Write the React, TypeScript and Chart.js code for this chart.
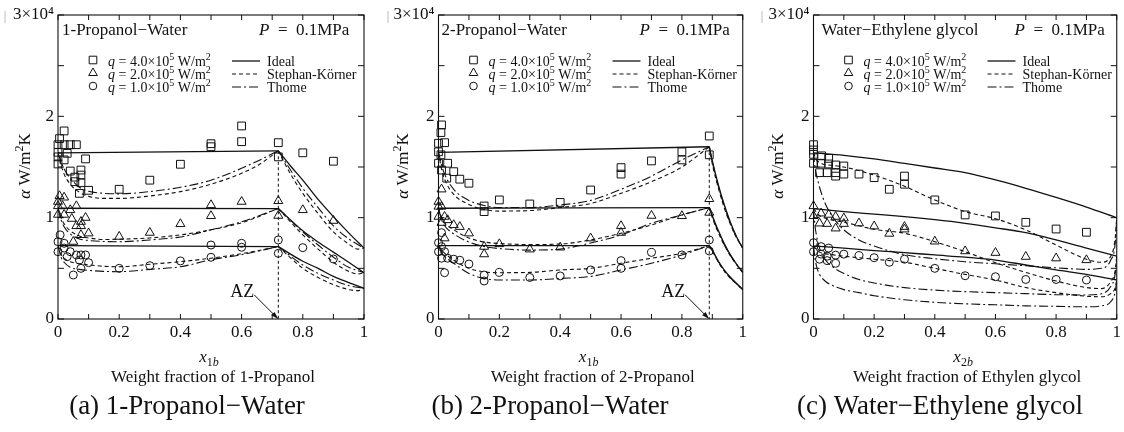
import React, { useEffect, useRef } from 'react';
import { Chart, registerables } from 'chart.js';

Chart.register(...registerables);

type Pt = [number, number];

// ---------- Tick labels ----------
const xTickLabels = ['0', '0.2', '0.4', '0.6', '0.8', '1'];
const yTickLabels = ['0', '1', '2', '3×10⁴'];

// ---------- Panel (a) 1-Propanol–Water ----------
const aSquares: Pt[] = [
  [0.02, 1.856], [0.005, 1.78], [0, 1.72], [0.02, 1.72], [0.04, 1.72], [0.06, 1.72], [0, 1.645], [0, 1.6],
  [0.03, 1.635], [0.02, 1.57], [0, 1.53], [0.09, 1.58], [0.04, 1.46], [0.075, 1.47], [0.075, 1.42],
  [0.055, 1.4], [0.055, 1.355], [0.075, 1.345], [0.1, 1.27], [0.07, 1.24], [0.2, 1.28], [0.3, 1.37],
  [0.4, 1.527], [0.5, 1.73], [0.5, 1.7], [0.6, 1.905], [0.6, 1.75], [0.72, 1.74], [0.72, 1.6], [0.8, 1.64],
  [0.9, 1.557],
];
const aTriangles: Pt[] = [
  [0.005, 1.214], [0.02, 1.2], [0, 1.158], [0, 1.115], [0.015, 1.115], [0.04, 1.076], [0.06, 1.115],
  [0.02, 1.03], [0, 1.03], [0.045, 0.99], [0.09, 1.0], [0.075, 0.96], [0.075, 0.918], [0.06, 0.918],
  [0.1, 0.846], [0.075, 0.83], [0.05, 0.763], [0.2, 0.813], [0.3, 0.852], [0.4, 0.938], [0.5, 1.125],
  [0.5, 1.017], [0.6, 1.158], [0.72, 1.165], [0.72, 1.02], [0.8, 1.076], [0.9, 0.97],
];
const aCircles: Pt[] = [
  [0.007, 0.83], [0, 0.763], [0, 0.664], [0.02, 0.747], [0.04, 0.664], [0.02, 0.7], [0.03, 0.615],
  [0.06, 0.632], [0.075, 0.632], [0.09, 0.632], [0.07, 0.582], [0.1, 0.556], [0.075, 0.5], [0.05, 0.434],
  [0.2, 0.5], [0.3, 0.526], [0.4, 0.573], [0.5, 0.73], [0.5, 0.609], [0.6, 0.747], [0.6, 0.708],
  [0.72, 0.78], [0.72, 0.648], [0.8, 0.704], [0.9, 0.592],
];
const aIdeal4L: Pt[] = [[0, 1.64], [0.72, 1.66]];
const aIdeal4R: Pt[] = [[0.72, 1.66], [0.76, 1.51], [0.8, 1.37], [0.85, 1.18], [0.9, 1.01], [0.95, 0.85], [1, 0.7]];
const aIdeal2L: Pt[] = [[0, 1.093], [0.72, 1.09]];
const aIdeal2R: Pt[] = [[0.72, 1.09], [0.8, 0.87], [0.85, 0.76], [0.9, 0.66], [0.95, 0.56], [1, 0.457]];
const aIdeal1L: Pt[] = [[0, 0.724], [0.72, 0.714]];
const aIdeal1R: Pt[] = [[0.72, 0.714], [0.8, 0.57], [0.85, 0.5], [0.9, 0.42], [0.95, 0.36], [1, 0.303]];
const aSK4L: Pt[] = [[0, 1.64], [0.01, 1.52], [0.02, 1.43], [0.04, 1.33], [0.07, 1.25], [0.1, 1.21], [0.15, 1.19], [0.2, 1.19], [0.3, 1.214], [0.4, 1.257], [0.5, 1.33], [0.6, 1.438], [0.66, 1.53], [0.72, 1.66]];
const aSK4R: Pt[] = [[0.72, 1.66], [0.76, 1.43], [0.8, 1.24], [0.85, 1.04], [0.9, 0.86], [0.95, 0.74], [0.98, 0.69], [1, 0.7]];
const aTh4L: Pt[] = [[0, 1.64], [0.01, 1.55], [0.02, 1.48], [0.04, 1.39], [0.07, 1.3], [0.1, 1.26], [0.15, 1.24], [0.2, 1.235], [0.3, 1.257], [0.4, 1.3], [0.5, 1.37], [0.6, 1.487], [0.66, 1.57], [0.72, 1.66]];
const aTh4R: Pt[] = [[0.72, 1.66], [0.76, 1.47], [0.8, 1.29], [0.85, 1.1], [0.9, 0.92], [0.95, 0.79], [1, 0.7]];
const aSK2L: Pt[] = [[0, 1.093], [0.01, 1.0], [0.02, 0.94], [0.04, 0.87], [0.07, 0.82], [0.1, 0.8], [0.15, 0.785], [0.2, 0.787], [0.3, 0.8], [0.4, 0.83], [0.5, 0.88], [0.6, 0.95], [0.72, 1.09]];
const aSK2R: Pt[] = [[0.72, 1.09], [0.8, 0.83], [0.85, 0.69], [0.9, 0.56], [0.95, 0.47], [0.98, 0.445], [1, 0.457]];
const aTh2L: Pt[] = [[0, 1.093], [0.01, 0.98], [0.02, 0.91], [0.04, 0.84], [0.07, 0.79], [0.1, 0.775], [0.15, 0.765], [0.2, 0.763], [0.3, 0.78], [0.4, 0.81], [0.5, 0.88], [0.6, 0.96], [0.72, 1.09]];
const aTh2R: Pt[] = [[0.72, 1.09], [0.8, 0.86], [0.85, 0.73], [0.9, 0.61], [0.95, 0.51], [1, 0.457]];
const aSK1L: Pt[] = [[0, 0.724], [0.01, 0.64], [0.02, 0.6], [0.04, 0.565], [0.07, 0.545], [0.1, 0.535], [0.15, 0.52], [0.2, 0.516], [0.3, 0.54], [0.4, 0.566], [0.5, 0.6], [0.6, 0.645], [0.72, 0.714]];
const aSK1R: Pt[] = [[0.72, 0.714], [0.8, 0.5], [0.85, 0.41], [0.9, 0.34], [0.95, 0.29], [0.98, 0.28], [1, 0.303]];
const aTh1L: Pt[] = [[0, 0.724], [0.01, 0.61], [0.02, 0.56], [0.04, 0.51], [0.07, 0.49], [0.1, 0.48], [0.15, 0.47], [0.2, 0.467], [0.3, 0.49], [0.4, 0.516], [0.5, 0.585], [0.6, 0.635], [0.72, 0.714]];
const aTh1R: Pt[] = [[0.72, 0.714], [0.8, 0.533], [0.85, 0.45], [0.9, 0.385], [0.95, 0.33], [1, 0.303]];
const aAzeotrope: Pt = [0.72, 1.66];

// ---------- Panel (b) 2-Propanol–Water ----------
const bSquares: Pt[] = [
  [0.01, 1.915], [0.008, 1.84], [0, 1.734], [0.02, 1.74], [0, 1.65], [0.008, 1.62], [0, 1.537], [0.03, 1.537],
  [0.01, 1.47], [0.027, 1.39], [0.05, 1.454], [0.07, 1.38], [0.1, 1.34], [0.15, 1.115], [0.15, 1.06],
  [0.2, 1.175], [0.3, 1.135], [0.4, 1.15], [0.5, 1.273], [0.6, 1.494], [0.6, 1.43], [0.7, 1.56], [0.8, 1.65],
  [0.8, 1.57], [0.89, 1.806], [0.89, 1.62],
];
const bTriangles: Pt[] = [
  [0.01, 1.28], [0, 1.158], [0.01, 1.11], [0, 1.11], [0, 1.01], [0.02, 1.01], [0.03, 0.977], [0.01, 0.95],
  [0.05, 0.928], [0.07, 0.91], [0.1, 0.846], [0.02, 0.797], [0.15, 0.714], [0.15, 0.64], [0.2, 0.74],
  [0.3, 0.688], [0.4, 0.707], [0.5, 0.797], [0.6, 0.918], [0.6, 0.852], [0.7, 1.02], [0.8, 1.017],
  [0.89, 1.185], [0.89, 1.05],
];
const bCircles: Pt[] = [
  [0.01, 0.852], [0, 0.753], [0.01, 0.714], [0, 0.664], [0.02, 0.664], [0.01, 0.6], [0.03, 0.6], [0.05, 0.59],
  [0.07, 0.58], [0.1, 0.543], [0.02, 0.457], [0.15, 0.434], [0.15, 0.375], [0.2, 0.46], [0.3, 0.41],
  [0.4, 0.425], [0.5, 0.484], [0.6, 0.576], [0.6, 0.5], [0.7, 0.657], [0.8, 0.632], [0.89, 0.78], [0.89, 0.671],
];
const bIdeal4L: Pt[] = [[0, 1.645], [0.89, 1.7]];
const bIdeal4R: Pt[] = [[0.89, 1.7], [0.9, 1.56], [0.92, 1.32], [0.94, 1.12], [0.96, 0.95], [0.98, 0.81], [1, 0.7]];
const bIdeal2L: Pt[] = [[0, 1.093], [0.89, 1.1]];
const bIdeal2R: Pt[] = [[0.89, 1.1], [0.9, 1.02], [0.92, 0.87], [0.94, 0.74], [0.96, 0.63], [0.98, 0.54], [1, 0.46]];
const bIdeal1L: Pt[] = [[0, 0.724], [0.89, 0.724]];
const bIdeal1R: Pt[] = [[0.89, 0.724], [0.9, 0.68], [0.92, 0.57], [0.94, 0.48], [0.96, 0.41], [0.98, 0.35], [1, 0.29]];
const bSK4L: Pt[] = [[0, 1.645], [0.01, 1.48], [0.02, 1.38], [0.05, 1.23], [0.1, 1.13], [0.15, 1.08], [0.2, 1.065], [0.3, 1.07], [0.4, 1.1], [0.5, 1.14], [0.6, 1.24], [0.7, 1.355], [0.8, 1.5], [0.89, 1.7]];
const bSK4R: Pt[] = [[0.89, 1.7], [0.9, 1.53], [0.92, 1.29], [0.94, 1.09], [0.96, 0.93], [0.98, 0.8], [1, 0.7]];
const bTh4L: Pt[] = [[0, 1.645], [0.01, 1.52], [0.02, 1.43], [0.05, 1.28], [0.1, 1.17], [0.15, 1.12], [0.2, 1.1], [0.3, 1.1], [0.4, 1.125], [0.5, 1.17], [0.6, 1.28], [0.7, 1.41], [0.8, 1.57], [0.89, 1.7]];
const bTh4R: Pt[] = [[0.89, 1.7], [0.9, 1.55], [0.92, 1.31], [0.94, 1.11], [0.96, 0.94], [0.98, 0.805], [1, 0.7]];
const bSK2L: Pt[] = [[0, 1.093], [0.01, 1.0], [0.02, 0.95], [0.05, 0.88], [0.1, 0.8], [0.15, 0.76], [0.2, 0.745], [0.3, 0.735], [0.4, 0.74], [0.5, 0.78], [0.6, 0.846], [0.7, 0.928], [0.8, 1.027], [0.89, 1.1]];
const bSK2R: Pt[] = [[0.89, 1.1], [0.9, 1.0], [0.92, 0.85], [0.94, 0.725], [0.96, 0.62], [0.98, 0.535], [1, 0.46]];
const bTh2L: Pt[] = [[0, 1.093], [0.01, 0.98], [0.02, 0.92], [0.05, 0.84], [0.1, 0.76], [0.15, 0.715], [0.2, 0.695], [0.3, 0.68], [0.4, 0.69], [0.5, 0.75], [0.6, 0.83], [0.7, 0.945], [0.8, 1.027], [0.89, 1.1]];
const bTh2R: Pt[] = [[0.89, 1.1], [0.9, 1.01], [0.92, 0.86], [0.94, 0.73], [0.96, 0.625], [0.98, 0.54], [1, 0.46]];
const bSK1L: Pt[] = [[0, 0.724], [0.01, 0.68], [0.02, 0.65], [0.05, 0.58], [0.1, 0.5], [0.15, 0.465], [0.2, 0.457], [0.3, 0.46], [0.4, 0.484], [0.5, 0.5], [0.6, 0.55], [0.7, 0.6], [0.8, 0.648], [0.89, 0.724]];
const bSK1R: Pt[] = [[0.89, 0.724], [0.9, 0.67], [0.92, 0.56], [0.94, 0.47], [0.96, 0.4], [0.98, 0.345], [1, 0.29]];
const bTh1L: Pt[] = [[0, 0.724], [0.01, 0.66], [0.02, 0.62], [0.05, 0.55], [0.1, 0.45], [0.15, 0.4], [0.2, 0.385], [0.3, 0.385], [0.4, 0.4], [0.5, 0.42], [0.6, 0.484], [0.7, 0.55], [0.8, 0.632], [0.89, 0.724]];
const bTh1R: Pt[] = [[0.89, 0.724], [0.9, 0.675], [0.92, 0.565], [0.94, 0.475], [0.96, 0.405], [0.98, 0.345], [1, 0.29]];
const bAzeotrope: Pt = [0.89, 1.7];

// ---------- Panel (c) Water–Ethylene glycol ----------
const cSquares: Pt[] = [
  [0, 1.72], [0, 1.668], [0, 1.625], [0, 1.537], [0.027, 1.61], [0.05, 1.585], [0.05, 1.53], [0.025, 1.537],
  [0.073, 1.52], [0.1, 1.51], [0.02, 1.444], [0.045, 1.444], [0.073, 1.444], [0.073, 1.41], [0.1, 1.43],
  [0.15, 1.43], [0.2, 1.395], [0.25, 1.28], [0.3, 1.41], [0.3, 1.33], [0.4, 1.175], [0.5, 1.027],
  [0.6, 1.017], [0.7, 0.954], [0.8, 0.888], [0.9, 0.856],
];
const cTriangles: Pt[] = [
  [0, 1.115], [0, 1.017], [0.025, 1.043], [0.05, 1.03], [0.073, 1.01], [0.1, 0.994], [0.02, 0.944],
  [0.045, 0.94], [0.073, 0.895], [0.1, 0.94], [0.15, 0.945], [0.2, 0.915], [0.25, 0.843], [0.3, 0.91],
  [0.3, 0.885], [0.4, 0.766], [0.5, 0.67], [0.6, 0.654], [0.7, 0.615], [0.8, 0.6], [0.9, 0.582],
];
const cCircles: Pt[] = [
  [0, 0.753], [0, 0.664], [0.025, 0.714], [0.05, 0.7], [0.025, 0.64], [0.045, 0.62], [0.073, 0.63],
  [0.02, 0.59], [0.045, 0.576], [0.073, 0.55], [0.1, 0.64], [0.15, 0.625], [0.2, 0.605], [0.25, 0.56],
  [0.3, 0.59], [0.4, 0.5], [0.5, 0.427], [0.6, 0.417], [0.7, 0.39], [0.8, 0.39], [0.9, 0.385],
];
const cIdeal4: Pt[] = [[0, 1.64], [0.1, 1.615], [0.2, 1.58], [0.3, 1.535], [0.4, 1.49], [0.5, 1.444], [0.6, 1.372], [0.7, 1.29], [0.8, 1.2], [0.9, 1.105], [1, 1.0]];
const cIdeal2: Pt[] = [[0, 1.09], [0.1, 1.06], [0.2, 1.035], [0.3, 1.01], [0.4, 0.98], [0.5, 0.944], [0.6, 0.9], [0.7, 0.852], [0.8, 0.78], [0.9, 0.7], [1, 0.62]];
const cIdeal1: Pt[] = [[0, 0.72], [0.1, 0.7], [0.2, 0.675], [0.3, 0.655], [0.4, 0.632], [0.5, 0.61], [0.6, 0.582], [0.7, 0.533], [0.8, 0.484], [0.9, 0.44], [1, 0.385]];
const cSK4: Pt[] = [[0, 1.64], [0.01, 1.57], [0.03, 1.53], [0.05, 1.52], [0.1, 1.5], [0.2, 1.42], [0.3, 1.31], [0.4, 1.175], [0.5, 1.06], [0.6, 0.99], [0.7, 0.88], [0.8, 0.73], [0.9, 0.59], [0.95, 0.56], [0.98, 0.62], [0.995, 0.8], [1, 1.0]];
const cSK2: Pt[] = [[0, 1.09], [0.02, 1.02], [0.05, 0.985], [0.1, 0.955], [0.15, 0.92], [0.2, 0.885], [0.3, 0.846], [0.4, 0.763], [0.5, 0.664], [0.6, 0.555], [0.7, 0.46], [0.8, 0.375], [0.9, 0.31], [0.95, 0.3], [0.98, 0.37], [0.995, 0.48], [1, 0.62]];
const cSK1: Pt[] = [[0, 0.72], [0.02, 0.66], [0.05, 0.64], [0.1, 0.62], [0.2, 0.59], [0.3, 0.56], [0.4, 0.5], [0.5, 0.44], [0.6, 0.385], [0.7, 0.31], [0.8, 0.26], [0.9, 0.225], [0.95, 0.22], [0.98, 0.25], [0.995, 0.31], [1, 0.385]];
const cTh4: Pt[] = [[0, 1.64], [0.005, 1.5], [0.01, 1.42], [0.02, 1.3], [0.04, 1.13], [0.07, 0.98], [0.1, 0.88], [0.15, 0.78], [0.2, 0.72], [0.3, 0.635], [0.4, 0.595], [0.5, 0.565], [0.6, 0.545], [0.7, 0.525], [0.8, 0.505], [0.9, 0.49], [0.95, 0.5], [0.98, 0.58], [0.995, 0.75], [1, 1.0]];
const cTh2: Pt[] = [[0, 1.09], [0.005, 0.92], [0.01, 0.82], [0.02, 0.7], [0.04, 0.58], [0.07, 0.5], [0.1, 0.45], [0.15, 0.39], [0.2, 0.355], [0.3, 0.31], [0.4, 0.285], [0.5, 0.27], [0.6, 0.26], [0.7, 0.25], [0.8, 0.24], [0.9, 0.237], [0.95, 0.25], [0.98, 0.32], [0.995, 0.45], [1, 0.62]];
const cTh1: Pt[] = [[0, 0.72], [0.005, 0.6], [0.01, 0.52], [0.02, 0.44], [0.04, 0.37], [0.07, 0.32], [0.1, 0.29], [0.15, 0.26], [0.2, 0.23], [0.3, 0.19], [0.4, 0.165], [0.5, 0.15], [0.6, 0.14], [0.7, 0.13], [0.8, 0.125], [0.9, 0.12], [0.95, 0.13], [0.98, 0.17], [0.995, 0.27], [1, 0.385]];

// ---------- legend texts ----------
const heatFluxValues = ['4.0', '2.0', '1.0'];
const modelNames = ['Ideal', 'Stephan-Körner', 'Thome'];

// ---------- styling / layout ----------
const H = 432;
const FONT = '"Liberation Serif", "Times New Roman", "DejaVu Serif", serif';
const INK = '#111';

type Kind = 'ideal' | 'sk' | 'th';
interface PanelSpec {
  left: number; width: number; plotLeft: number; plotRight: number;
  title: string; titleDx: number; xSub: string; xName: string; caption: string; captionX: number;
  yTitleX: number; artifactX: number;
  squares: Pt[]; triangles: Pt[]; circles: Pt[];
  lines: { pts: Pt[]; kind: Kind }[];
  az?: Pt;
}

const panels: PanelSpec[] = [
  {
    left: 0, width: 375, plotLeft: 58, plotRight: 364, title: '1-Propanol−Water', titleDx: 4,
    xSub: '1b', xName: 'Weight fraction of 1-Propanol', caption: '(a) 1-Propanol−Water', captionX: 187,
    yTitleX: 30, artifactX: 5, squares: aSquares, triangles: aTriangles, circles: aCircles,
    lines: [
      { pts: aIdeal4L, kind: 'ideal' }, { pts: aIdeal4R, kind: 'ideal' }, { pts: aIdeal2L, kind: 'ideal' }, { pts: aIdeal2R, kind: 'ideal' },
      { pts: aIdeal1L, kind: 'ideal' }, { pts: aIdeal1R, kind: 'ideal' },
      { pts: aSK4L, kind: 'sk' }, { pts: aSK4R, kind: 'sk' }, { pts: aSK2L, kind: 'sk' }, { pts: aSK2R, kind: 'sk' }, { pts: aSK1L, kind: 'sk' }, { pts: aSK1R, kind: 'sk' },
      { pts: aTh4L, kind: 'th' }, { pts: aTh4R, kind: 'th' }, { pts: aTh2L, kind: 'th' }, { pts: aTh2R, kind: 'th' }, { pts: aTh1L, kind: 'th' }, { pts: aTh1R, kind: 'th' },
    ],
    az: aAzeotrope,
  },
  {
    left: 375, width: 375, plotLeft: 63.5, plotRight: 368, title: '2-Propanol−Water', titleDx: 3,
    xSub: '1b', xName: 'Weight fraction of 2-Propanol', caption: '(b) 2-Propanol−Water', captionX: 175,
    yTitleX: 33, artifactX: 13, squares: bSquares, triangles: bTriangles, circles: bCircles,
    lines: [
      { pts: bIdeal4L, kind: 'ideal' }, { pts: bIdeal4R, kind: 'ideal' }, { pts: bIdeal2L, kind: 'ideal' }, { pts: bIdeal2R, kind: 'ideal' },
      { pts: bIdeal1L, kind: 'ideal' }, { pts: bIdeal1R, kind: 'ideal' },
      { pts: bSK4L, kind: 'sk' }, { pts: bSK4R, kind: 'sk' }, { pts: bSK2L, kind: 'sk' }, { pts: bSK2R, kind: 'sk' }, { pts: bSK1L, kind: 'sk' }, { pts: bSK1R, kind: 'sk' },
      { pts: bTh4L, kind: 'th' }, { pts: bTh4R, kind: 'th' }, { pts: bTh2L, kind: 'th' }, { pts: bTh2R, kind: 'th' }, { pts: bTh1L, kind: 'th' }, { pts: bTh1R, kind: 'th' },
    ],
    az: bAzeotrope,
  },
  {
    left: 750, width: 374, plotLeft: 63.5, plotRight: 368, title: 'Water−Ethylene glycol', titleDx: 8,
    xSub: '2b', xName: 'Weight fraction of Ethylen glycol', caption: '(c) Water−Ethylene glycol', captionX: 190,
    yTitleX: 33, artifactX: 12, squares: cSquares, triangles: cTriangles, circles: cCircles,
    lines: [
      { pts: cIdeal4, kind: 'ideal' }, { pts: cIdeal2, kind: 'ideal' }, { pts: cIdeal1, kind: 'ideal' },
      { pts: cSK4, kind: 'sk' }, { pts: cSK2, kind: 'sk' }, { pts: cSK1, kind: 'sk' },
      { pts: cTh4, kind: 'th' }, { pts: cTh2, kind: 'th' }, { pts: cTh1, kind: 'th' },
    ],
  },
];

const dashFor: Record<Kind, number[]> = { ideal: [], sk: [4, 3], th: [9, 3, 2, 3] };
const widthFor: Record<Kind, number> = { ideal: 1.3, sk: 1.1, th: 1.1 };

// ---------- rich text helper ----------
type Seg = { t: string; it?: boolean; sup?: boolean; sub?: boolean };
function segFont(s: Seg, size: number) {
  const sz = s.sup || s.sub ? Math.round(size * 0.68) : size;
  return `${s.it ? 'italic ' : ''}${sz}px ${FONT}`;
}
function drawRich(ctx: CanvasRenderingContext2D, segs: Seg[], x: number, y: number, size: number, align: 'left' | 'center' | 'right') {
  let total = 0;
  const widths = segs.map((s) => { ctx.font = segFont(s, size); const w = ctx.measureText(s.t).width; total += w; return w; });
  let cx = align === 'left' ? x : align === 'center' ? x - total / 2 : x - total;
  ctx.textBaseline = 'alphabetic';
  ctx.textAlign = 'left';
  segs.forEach((s, i) => {
    ctx.font = segFont(s, size);
    const dy = s.sup ? -size * 0.4 : s.sub ? size * 0.25 : 0;
    ctx.fillText(s.t, cx, y + dy);
    cx += widths[i];
  });
}

function drawMarker(ctx: CanvasRenderingContext2D, kind: 'rect' | 'triangle' | 'circle', x: number, y: number) {
  ctx.beginPath();
  if (kind === 'rect') ctx.rect(x - 3.8, y - 3.8, 7.6, 7.6);
  else if (kind === 'circle') ctx.arc(x, y, 3.8, 0, Math.PI * 2);
  else {
    const r = 5;
    for (let k = 0; k < 3; k++) {
      const ang = (k * 2 * Math.PI) / 3;
      const px = x + Math.sin(ang) * r; const py = y - Math.cos(ang) * r;
      if (k === 0) ctx.moveTo(px, py); else ctx.lineTo(px, py);
    }
    ctx.closePath();
  }
  ctx.stroke();
}

function makeDecor(spec: PanelSpec) {
  return {
    id: 'decor',
    afterDraw(chart: any) {
      const ctx: CanvasRenderingContext2D = chart.ctx;
      const a = chart.chartArea;
      const xs = chart.scales.x; const ys = chart.scales.y;
      ctx.save();
      ctx.strokeStyle = INK; ctx.fillStyle = INK; ctx.setLineDash([]);
      // frame
      ctx.lineWidth = 1.1;
      ctx.strokeRect(a.left, a.top, a.right - a.left, a.bottom - a.top);
      // inward ticks
      ctx.lineWidth = 1;
      ctx.beginPath();
      for (let i = 0; i <= 10; i++) {
        const px = xs.getPixelForValue(i / 10);
        ctx.moveTo(px, a.bottom); ctx.lineTo(px, a.bottom - 5);
        ctx.moveTo(px, a.top); ctx.lineTo(px, a.top + 5);
      }
      for (let i = 0; i <= 6; i++) {
        const py = ys.getPixelForValue(i / 2);
        ctx.moveTo(a.left, py); ctx.lineTo(a.left + 6, py);
        ctx.moveTo(a.right, py); ctx.lineTo(a.right - 6, py);
      }
      ctx.stroke();
      // small gray mark at top-left
      ctx.strokeStyle = '#bbb';
      ctx.beginPath(); ctx.moveTo(spec.artifactX, 11); ctx.lineTo(spec.artifactX, 23); ctx.stroke();
      ctx.strokeStyle = INK;

      // title and pressure
      drawRich(ctx, [{ t: spec.title }], a.left + spec.titleDx, 35, 17, 'left');
      drawRich(ctx, [{ t: 'P', it: true }, { t: '\u2002=\u2002' }, { t: '0.1MPa' }], a.left + 201, 35, 17, 'left');

      // legend
      const rows = [66, 79, 92];
      const marks: ('rect' | 'triangle' | 'circle')[] = ['rect', 'triangle', 'circle'];
      const kinds: Kind[] = ['ideal', 'sk', 'th'];
      rows.forEach((by, i) => {
        ctx.lineWidth = 1; ctx.setLineDash([]);
        drawMarker(ctx, marks[i], a.left + 35, by - 6);
        drawRich(ctx, [{ t: 'q', it: true }, { t: ` = ${heatFluxValues[i]}×10` }, { t: '5', sup: true }, { t: ' W/m' }, { t: '2', sup: true }], a.left + 50, by, 14, 'left');
        ctx.lineWidth = widthFor[kinds[i]];
        ctx.setLineDash(dashFor[kinds[i]]);
        ctx.beginPath(); ctx.moveTo(a.left + 174, by - 5); ctx.lineTo(a.left + 202, by - 5); ctx.stroke();
        ctx.setLineDash([]);
        drawRich(ctx, [{ t: modelNames[i] }], a.left + 209, by, 14, 'left');
      });

      // azeotrope marker
      if (spec.az) {
        const ax = xs.getPixelForValue(spec.az[0]);
        const topY = ys.getPixelForValue(spec.az[1]);
        const y0 = ys.getPixelForValue(0);
        ctx.lineWidth = 1; ctx.setLineDash([3, 2.5]);
        ctx.beginPath(); ctx.moveTo(ax, topY); ctx.lineTo(ax, y0); ctx.stroke();
        ctx.setLineDash([]);
        const sx = ax - 24, sy = y0 - 24;
        ctx.beginPath(); ctx.moveTo(sx, sy); ctx.lineTo(ax - 2, y0 - 2); ctx.stroke();
        const ang = Math.atan2(y0 - sy, ax - sx);
        ctx.beginPath();
        ctx.moveTo(ax, y0);
        ctx.lineTo(ax - 8 * Math.cos(ang - 0.3), y0 - 8 * Math.sin(ang - 0.3));
        ctx.lineTo(ax - 8 * Math.cos(ang + 0.3), y0 - 8 * Math.sin(ang + 0.3));
        ctx.closePath(); ctx.fill();
        drawRich(ctx, [{ t: 'AZ' }], ax - 24, y0 - 22, 18, 'right');
      }

      // y axis title (rotated)
      ctx.save();
      ctx.translate(spec.yTitleX, 166);
      ctx.rotate(-Math.PI / 2);
      drawRich(ctx, [{ t: 'α', it: true }, { t: ' W/m' }, { t: '2', sup: true }, { t: 'K' }], 0, 0, 17, 'center');
      ctx.restore();

      // x axis title
      const cx = (a.left + a.right) / 2;
      drawRich(ctx, [{ t: 'x', it: true }, { t: spec.xSub[0], sub: true }, { t: spec.xSub.slice(1), sub: true, it: true }], cx - 2, 362, 17, 'center');
      drawRich(ctx, [{ t: spec.xName }], cx + 2, 382, 17, 'center');
      // caption
      drawRich(ctx, [{ t: spec.caption }], spec.captionX, 414, 27, 'center');
      ctx.restore();
    },
  };
}

function buildConfig(spec: PanelSpec): any {
  const lineSets = spec.lines.map((l) => ({
    data: l.pts.map(([x, y]) => ({ x, y })),
    showLine: true,
    pointRadius: 0,
    borderColor: INK,
    borderWidth: widthFor[l.kind],
    borderDash: dashFor[l.kind],
    fill: false,
    tension: 0.4,
    cubicInterpolationMode: 'monotone',
  }));
  const mark = (pts: Pt[], style: string, r: number) => ({
    data: pts.map(([x, y]) => ({ x, y })),
    showLine: false,
    pointStyle: style,
    pointRadius: r,
    borderColor: INK,
    borderWidth: 1,
    backgroundColor: 'rgba(0,0,0,0)',
    clip: false,
  });
  return {
    type: 'scatter',
    data: {
      datasets: [
        mark(spec.squares, 'rect', 5.5),
        mark(spec.triangles, 'triangle', 5.2),
        mark(spec.circles, 'circle', 4),
        ...lineSets,
      ],
    },
    options: {
      animation: false,
      responsive: false,
      maintainAspectRatio: false,
      events: [],
      layout: { padding: { left: 0, top: 15, right: spec.width - spec.plotRight, bottom: H - 319 - 20 } },
      plugins: { legend: { display: false }, tooltip: { enabled: false } },
      scales: {
        x: {
          type: 'linear', min: 0, max: 1,
          afterFit: (s: any) => { s.height = 20; },
          grid: { display: false, drawTicks: false },
          border: { display: false },
          ticks: {
            stepSize: 0.2, autoSkip: false, maxRotation: 0, padding: 3, color: INK,
            font: { family: FONT, size: 17 },
            callback: (v: number) => xTickLabels[Math.round(v * 5)] ?? '',
          },
        },
        y: {
          type: 'linear', min: 0, max: 3,
          afterFit: (s: any) => { s.width = spec.plotLeft; },
          grid: { display: false, drawTicks: false },
          border: { display: false },
          ticks: {
            stepSize: 1, padding: 4, color: INK,
            font: { family: FONT, size: 17 },
            callback: (v: number) => yTickLabels[Math.round(v)] ?? '',
          },
        },
      },
    },
    plugins: [makeDecor(spec)],
  };
}

function Panel({ spec }: { spec: PanelSpec }) {
  const ref = useRef<HTMLCanvasElement>(null);
  useEffect(() => {
    if (!ref.current) return;
    const chart = new Chart(ref.current, buildConfig(spec));
    return () => chart.destroy();
  }, [spec]);
  return (
    <canvas
      ref={ref}
      width={spec.width}
      height={H}
      style={{ position: 'absolute', left: spec.left, top: 0, width: spec.width, height: H }}
    />
  );
}

export default function App() {
  return (
    <div style={{ position: 'absolute', left: 0, top: 0, width: 1124, height: H, background: '#fff' }}>
      {panels.map((p, i) => (
        <Panel key={i} spec={p} />
      ))}
    </div>
  );
}
